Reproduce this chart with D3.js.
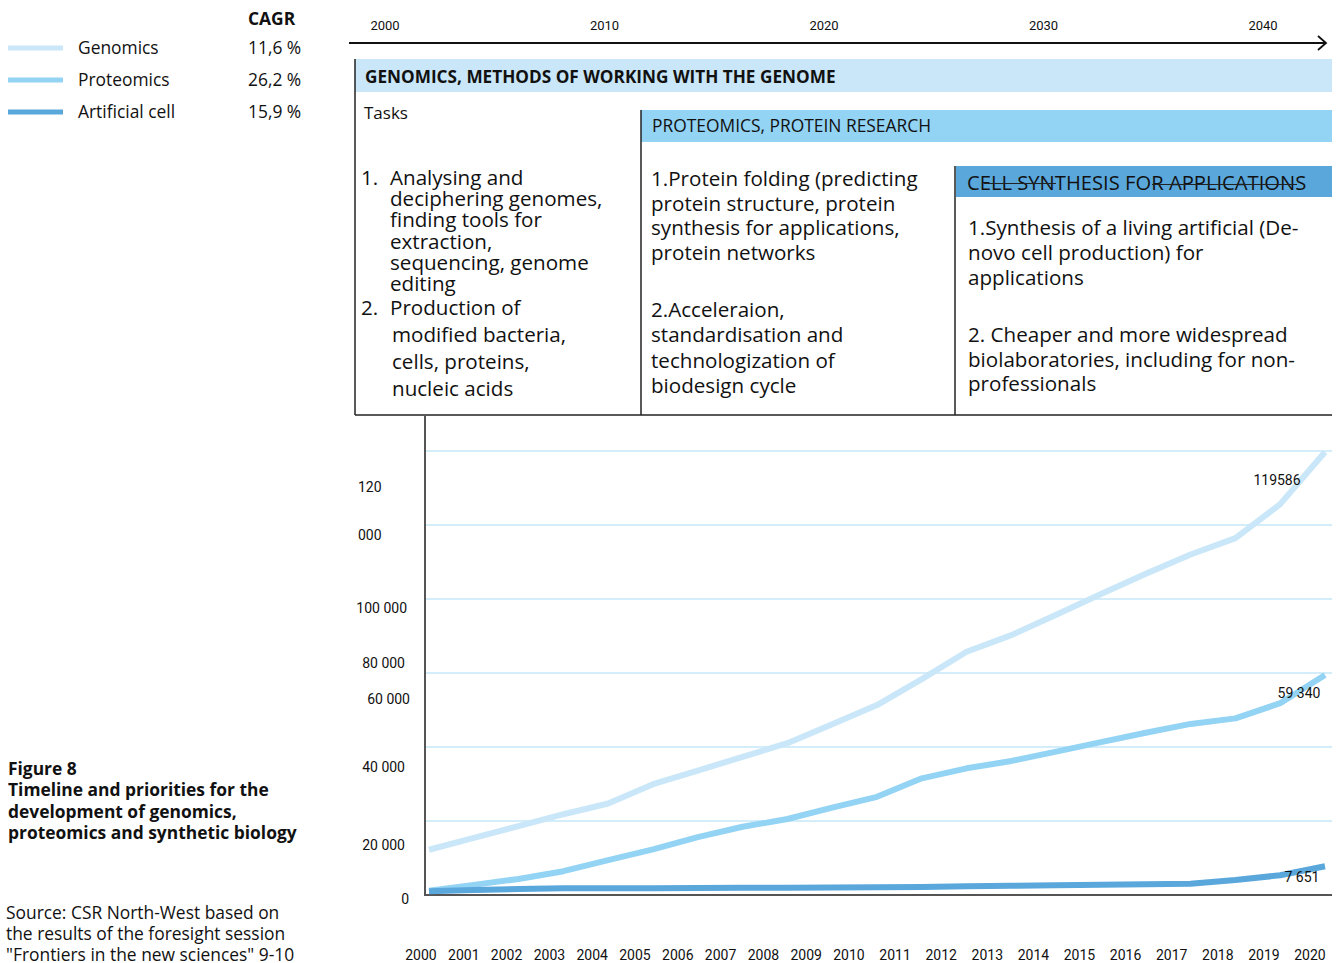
<!DOCTYPE html>
<html>
<head>
<meta charset="utf-8">
<script src="https://cdn.jsdelivr.net/npm/d3@7/dist/d3.min.js"></script>
<style>
  body { margin: 0; background: #fff; }
  svg { display: block; }
</style>
</head>
<body>
<svg id="fig" width="1340" height="963"></svg>
<script>
// ---------- data ----------
const years = [2000, 2001, 2002, 2003, 2004, 2005, 2006, 2007, 2008, 2009, 2010,
               2011, 2012, 2013, 2014, 2015, 2016, 2017, 2018, 2019, 2020];

const genomics   = [12100, 15300, 18500, 21700, 24600, 29800, 33500, 37200, 40900, 46000, 51200,
                    58200, 65600, 70100, 75600, 81200, 86700, 91900, 96300, 105500, 119586];
const proteomics = [1000, 2600, 4200, 6300, 9300, 12200, 15500, 18300, 20400, 23500, 26400,
                    31400, 34100, 36100, 38600, 41200, 43700, 46100, 47600, 51700, 59340];
const artificial = [900, 1200, 1500, 1700, 1700, 1700, 1750, 1800, 1850, 1900, 1950,
                    2000, 2200, 2350, 2500, 2650, 2800, 2900, 3900, 5200, 7651];

const seriesNames = ["Genomics", "Proteomics", "Artificial cell"];
const cagr        = ["11,6 %", "26,2 %", "15,9 %"];
const endLabels   = ["119586", "59 340", "7 651"];

const yTicks      = [0, 20000, 40000, 60000, 80000, 100000, 120000];
const yTickLabels = ["0", "20 000", "40 000", "60 000", "80 000", "100 000", "120 000"];

const timelineYears = [2000, 2010, 2020, 2030, 2040];

const bandTitles = ["GENOMICS, METHODS OF WORKING WITH THE GENOME",
                    "PROTEOMICS, PROTEIN RESEARCH",
                    "CELL SYNTHESIS FOR APPLICATIONS"];

const genomicsTasks1 = ["Analysing and", "deciphering genomes,", "finding tools for",
                        "extraction,", "sequencing, genome", "editing"];
const genomicsTasks2 = ["Production of", "modified bacteria,", "cells, proteins,", "nucleic acids"];
const proteomicsTasks1 = ["1.Protein folding (predicting", "protein structure, protein",
                          "synthesis for applications,", "protein networks"];
const proteomicsTasks2 = ["2.Acceleraion,", "standardisation and", "technologization of", "biodesign cycle"];
const cellTasks1 = ["1.Synthesis of a living artificial (De-", "novo cell production) for", "applications"];
const cellTasks2 = ["2. Cheaper and more widespread", "biolaboratories, including for non-", "professionals"];

const figureTitle = ["Figure 8", "Timeline and priorities for the", "development of genomics,",
                     "proteomics and synthetic biology"];
const sourceNote  = ["Source: CSR North-West based on", "the results of the foresight session",
                     "\"Frontiers in the new sciences\" 9-10"];

// ---------- styles ----------
const colors = ["#c9e7f8", "#93d3f4", "#5aa7dc"];
const FONT = "'Open Sans', 'Noto Sans', sans-serif";
const NUM_FONT = "Roboto, 'Noto Sans', sans-serif";
const BODY = 20.6;
const SMALL = 17.4;
const svg = d3.select("#fig");

svg.append("rect").attr("width", 1340).attr("height", 963).attr("fill", "#fff");

function textLines(lines, x, y0, step, opts = {}) {
  const g = svg.append("g");
  lines.forEach((t, i) => {
    g.append("text")
      .attr("x", x).attr("y", y0 + i * step)
      .attr("font-family", opts.family || FONT)
      .attr("font-size", opts.size || BODY)
      .attr("font-weight", opts.weight || 400)
      .attr("fill", "#111")
      .text(t);
  });
  return g;
}

// ---------- legend ----------
svg.append("text").attr("x", 248).attr("y", 25)
  .attr("font-family", FONT).attr("font-size", SMALL).attr("font-weight", 700)
  .attr("fill", "#111").text("CAGR");

const legendY = d3.scalePoint().domain(seriesNames).range([48, 112]);
seriesNames.forEach((name, i) => {
  const y = legendY(name);
  svg.append("line").attr("x1", 8).attr("x2", 63).attr("y1", y).attr("y2", y)
    .attr("stroke", colors[i]).attr("stroke-width", 5);
  svg.append("text").attr("x", 78).attr("y", y + 6)
    .attr("font-family", FONT).attr("font-size", SMALL).attr("fill", "#111").text(name);
  svg.append("text").attr("x", 248).attr("y", y + 6)
    .attr("font-family", FONT).attr("font-size", SMALL).attr("fill", "#111").text(cagr[i]);
});

// ---------- top timeline ----------
const xTime = d3.scaleLinear().domain([2000, 2040]).range([385, 1263]);
timelineYears.forEach(yr => {
  svg.append("text").attr("x", xTime(yr)).attr("y", 30)
    .attr("text-anchor", "middle")
    .attr("font-family", NUM_FONT).attr("font-size", 13).attr("fill", "#111").text(yr);
});
svg.append("line").attr("x1", 349).attr("x2", 1325).attr("y1", 43).attr("y2", 43)
  .attr("stroke", "#111").attr("stroke-width", 2);
svg.append("path").attr("d", "M1318,36 L1326,43 L1318,50")
  .attr("fill", "none").attr("stroke", "#111").attr("stroke-width", 1.8);

// ---------- task table ----------
const R = 1332;
svg.append("rect").attr("x", 355).attr("y", 59).attr("width", R - 355).attr("height", 33).attr("fill", colors[0]);
svg.append("rect").attr("x", 641).attr("y", 110).attr("width", R - 641).attr("height", 32).attr("fill", colors[1]);
svg.append("rect").attr("x", 956).attr("y", 166).attr("width", R - 956).attr("height", 31).attr("fill", colors[2]);

svg.append("text").attr("x", 365).attr("y", 83)
  .attr("font-family", FONT).attr("font-size", 17.2).attr("font-weight", 700).attr("fill", "#111").text(bandTitles[0]);
svg.append("text").attr("x", 652).attr("y", 132)
  .attr("font-family", FONT).attr("font-size", 17.4).attr("fill", "#111").text(bandTitles[1]);
svg.append("text").attr("x", 967).attr("y", 189.5)
  .attr("font-family", FONT).attr("font-size", 20.2).attr("fill", "#111").text(bandTitles[2]);
// thin strokes running through the third band title
svg.append("line").attr("x1", 984).attr("x2", 1056).attr("y1", 183.5).attr("y2", 183.5)
  .attr("stroke", "#222").attr("stroke-width", 1);
svg.append("line").attr("x1", 1152).attr("x2", 1297).attr("y1", 184.5).attr("y2", 184.5)
  .attr("stroke", "#222").attr("stroke-width", 1);

const border = { stroke: "#222", w: 1.5 };
[[355, 59, 355, 415], [641, 110, 641, 415], [955, 166, 955, 415], [355, 415, R, 415]].forEach(d => {
  svg.append("line").attr("x1", d[0]).attr("y1", d[1]).attr("x2", d[2]).attr("y2", d[3])
    .attr("stroke", border.stroke).attr("stroke-width", border.w);
});

svg.append("text").attr("x", 364).attr("y", 119)
  .attr("font-family", FONT).attr("font-size", 17).attr("fill", "#111").text("Tasks");

textLines(["1."], 361, 185, 0);
textLines(genomicsTasks1, 390, 185, 21.2);
textLines(["2."], 361, 315, 0);
textLines(genomicsTasks2.slice(0, 1), 390, 315, 0);
textLines(genomicsTasks2.slice(1), 392, 342, 27);

textLines(proteomicsTasks1, 651, 186, 24.7);
textLines(proteomicsTasks2, 651, 317, 25.3);

textLines(cellTasks1, 968, 235, 25);
textLines(cellTasks2, 968, 342, 24.5);

// ---------- line chart ----------
const x = d3.scaleLinear().domain([2000, 2020]).range([429, 1325]);
const y = d3.scaleLinear().domain([0, 120000]).range([894.5, 450.5]);

// gridlines
svg.append("g").attr("transform", "translate(425,0)")
  .call(d3.axisRight(y).tickValues(yTicks.slice(1)).tickSize(R - 425).tickFormat(""))
  .call(g => g.select(".domain").remove())
  .call(g => g.selectAll("line").attr("stroke", "#c6e7f8").attr("stroke-width", 1.5));

// axes lines
svg.append("line").attr("x1", 425).attr("x2", 425).attr("y1", 415).attr("y2", y(0))
  .attr("stroke", "#555").attr("stroke-width", 2);
svg.append("line").attr("x1", 424).attr("x2", R).attr("y1", y(0) + 0.5).attr("y2", y(0) + 0.5)
  .attr("stroke", "#555").attr("stroke-width", 2);

// y tick labels (placed relative to their gridline)
const yLabelPlace = [
  { dy: 4,    x: 409, anchor: "end" },
  { dy: 24.5, x: 405, anchor: "end" },
  { dy: 20.5, x: 405, anchor: "end" },
  { dy: 26.5, x: 410, anchor: "end" },
  { dy: 64.5, x: 405, anchor: "end" },
  { dy: 83.5, x: 407, anchor: "end" },
  { dy: 36.5, x: 358, anchor: "start", wrap: 48 }
];
yTicks.forEach((v, i) => {
  const p = yLabelPlace[i];
  const parts = p.wrap ? yTickLabels[i].split(" ") : [yTickLabels[i]];
  parts.forEach((t, k) => {
    svg.append("text").attr("x", p.x).attr("y", y(v) + p.dy + 5 + k * (p.wrap || 0))
      .attr("text-anchor", p.anchor)
      .attr("font-family", NUM_FONT).attr("font-size", 14).attr("fill", "#111").text(t);
  });
});

// x tick labels
const xLabel = d3.scaleLinear().domain([2000, 2010, 2020]).range([421, 849, 1310]);
years.forEach(yr => {
  svg.append("text").attr("x", xLabel(yr)).attr("y", 960)
    .attr("text-anchor", "middle")
    .attr("font-family", NUM_FONT).attr("font-size", 14).attr("fill", "#111").text(yr);
});

// series lines
const line = d3.line().x((d, i) => x(years[i])).y(d => y(d));
[genomics, proteomics, artificial].forEach((s, i) => {
  svg.append("path").datum(s).attr("d", line)
    .attr("fill", "none").attr("stroke", colors[i]).attr("stroke-width", 6)
    .attr("stroke-linejoin", "round");
});

// end value labels
const lastIdx = years.length - 1;
const endPlace = [{ dx: -48, dy: 33 }, { dx: -26, dy: 23 }, { dx: -23, dy: 16 }];
[genomics, proteomics, artificial].forEach((s, i) => {
  svg.append("text").attr("x", x(years[lastIdx]) + endPlace[i].dx)
    .attr("y", y(s[lastIdx]) + endPlace[i].dy)
    .attr("text-anchor", "middle")
    .attr("font-family", NUM_FONT).attr("font-size", 14).attr("fill", "#111").text(endLabels[i]);
});

// ---------- caption ----------
textLines(figureTitle, 8, 775, 21.3, { size: SMALL, weight: 700 });
textLines(sourceNote, 6, 919, 21, { size: SMALL });
</script>
</body>
</html>
